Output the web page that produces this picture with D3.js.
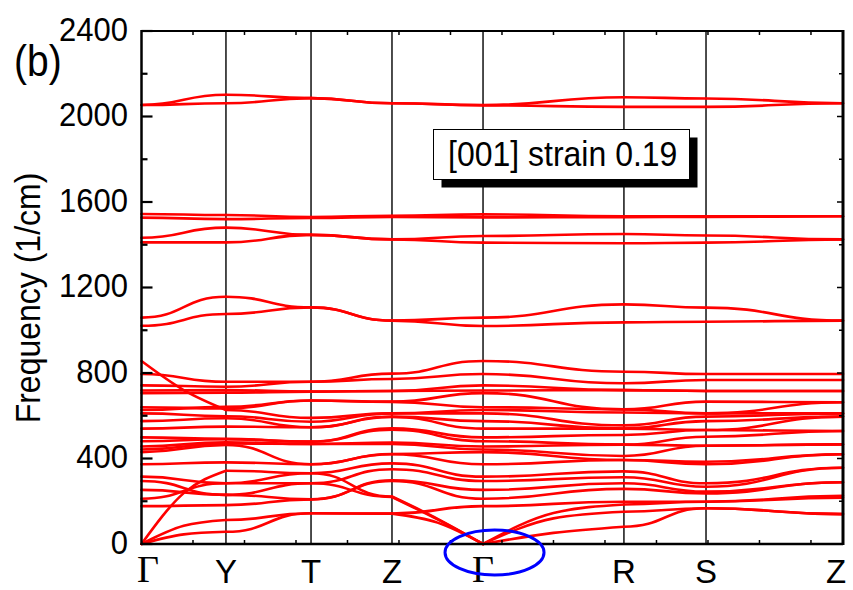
<!DOCTYPE html>
<html>
<head>
<meta charset="utf-8">
<script src="https://cdn.jsdelivr.net/npm/d3@7"></script>
<style>
  html, body { margin: 0; padding: 0; background: #fff; }
  svg { display: block; }
  text { font-family: Arial, "Liberation Sans", sans-serif; fill: #000; }
</style>
</head>
<body>
<div id="chart"></div>
<script>
// ---------- data ----------
const HSYM_LABELS = ["Γ", "Y", "T", "Z", "Γ", "R", "S", "Z"];
const HSYM_K = [0, 0.820, 1.646, 2.432, 3.316, 4.684, 5.481, 6.811];
const Y_TICKS = [0, 400, 800, 1200, 1600, 2000, 2400];
const Y_TITLE = "Frequency (1/cm)";
const PANEL_LABEL = "(b)";
const LEGEND_TEXT = "[001] strain 0.19";

// values at Γ, Y, T, Z, Γ, R, S, Z
const UPPER_BANDS = [
  [2054, 2102, 2086, 2062, 2054, 2090, 2084, 2062],
  [2054, 2062, 2086, 2062, 2052, 2045, 2045, 2062],
  [1544, 1539, 1530, 1536, 1542, 1533, 1533, 1533],
  [1527, 1520, 1525, 1530, 1528, 1529, 1530, 1533],
  [1433, 1480, 1446, 1425, 1441, 1450, 1443, 1425],
  [1411, 1411, 1446, 1425, 1410, 1407, 1410, 1425],
  [1059, 1157, 1107, 1045, 1059, 1121, 1106, 1045],
  [1021, 1076, 1107, 1045, 1020, 1037, 1040, 1045]
];

const LOW_BANDS = [
  [0, 57, 144, 142, 0, 81, 167, 140],
  [0, 112, 144, 142, 177, 198, 198, 226],
  [0, 343, 331, 222, 0, 151, 167, 140],
  [177, 182, 209, 295, 212, 258, 237, 289],
  [212, 284, 284, 220, 0, 185, 198, 217],
  [253, 230, 209, 298, 253, 284, 245, 289],
  [295, 230, 284, 350, 295, 312, 268, 357],
  [315, 284, 331, 377, 315, 340, 284, 357],
  [373, 382, 373, 420, 373, 393, 373, 420],
  [430, 463, 373, 421, 430, 393, 385, 420],
  [442, 470, 468, 468, 442, 412, 460, 466],
  [456, 476, 468, 475, 456, 465, 460, 466],
  [481, 490, 479, 535, 481, 465, 502, 529],
  [499, 492, 479, 541, 499, 510, 533, 529],
  [540, 549, 546, 594, 540, 540, 533, 596],
  [575, 588, 546, 596, 575, 540, 575, 596],
  [611, 598, 572, 611, 611, 555, 596, 611],
  [627, 642, 671, 665, 640, 630, 611, 663],
  [640, 634, 671, 666, 706, 630, 666, 663],
  [706, 708, 713, 716, 718, 720, 716, 716],
  [718, 720, 713, 716, 742, 720, 716, 716],
  [742, 736, 759, 772, 795, 752, 767, 767],
  [795, 759, 759, 797, 856, 806, 795, 795],
  [856, 627, 590, 611, 627, 615, 611, 611]
];

// extra mid-segment readings: [low band index, segment index, value]
const BAND_MIDS = [
  [0, 0, 45], [1, 0, 85], [2, 0, 238], [23, 0, 720],
  [0, 3, 100], [2, 3, 118], [4, 3, 115],
  [0, 4, 52], [2, 4, 120], [4, 4, 145]
];

// ---------- layout ----------
const W = 853, H = 590;
const plot = { left: 141.5, right: 843, top: 31, bottom: 544 };

const svg = d3.select("#chart").append("svg")
  .attr("width", W)
  .attr("height", H)
  .attr("viewBox", `0 0 ${W} ${H}`);

const x = d3.scaleLinear().domain([0, HSYM_K[HSYM_K.length - 1]]).range([plot.left, plot.right]);
const y = d3.scaleLinear().domain([0, 2400]).range([plot.bottom, plot.top]);

// high symmetry vertical lines
svg.append("g")
  .selectAll("line")
  .data(HSYM_K.slice(1, -1))
  .join("line")
  .attr("x1", d => x(d)).attr("x2", d => x(d))
  .attr("y1", plot.top).attr("y2", plot.bottom)
  .attr("stroke", "#111")
  .attr("stroke-width", 1.5);

// ---------- bands ----------
const midLookup = new Map(BAND_MIDS.map(([b, s, v]) => [b + ":" + s, v]));
const bump = d3.line().x(d => x(d[0])).y(d => y(d[1])).curve(d3.curveBumpX);
const mono = d3.line().x(d => x(d[0])).y(d => y(d[1])).curve(d3.curveMonotoneX);

const bandG = svg.append("g")
  .attr("fill", "none")
  .attr("stroke", "#ff0000")
  .attr("stroke-width", 2.6)
  .attr("stroke-linejoin", "round")
  .attr("stroke-linecap", "round");

function drawBand(vals, key) {
  for (let s = 0; s < HSYM_K.length - 1; s++) {
    const mid = key == null ? undefined : midLookup.get(key + ":" + s);
    if (mid !== undefined) {
      const km = (HSYM_K[s] + HSYM_K[s + 1]) / 2;
      bandG.append("path")
        .attr("d", mono([[HSYM_K[s], vals[s]], [km, mid], [HSYM_K[s + 1], vals[s + 1]]]));
    } else {
      bandG.append("path")
        .attr("d", bump([[HSYM_K[s], vals[s]], [HSYM_K[s + 1], vals[s + 1]]]));
    }
  }
}

UPPER_BANDS.forEach(b => drawBand(b, null));
LOW_BANDS.forEach((b, i) => drawBand(b, i));

// ---------- frame and ticks ----------
const frame = svg.append("g").attr("stroke", "#000");
frame.append("line").attr("x1", plot.left).attr("x2", plot.right).attr("y1", plot.top).attr("y2", plot.top).attr("stroke-width", 2);
frame.append("line").attr("x1", plot.left).attr("x2", plot.right).attr("y1", plot.bottom).attr("y2", plot.bottom).attr("stroke-width", 2.5);
frame.append("line").attr("x1", plot.left).attr("x2", plot.left).attr("y1", plot.top - 1).attr("y2", plot.bottom + 1).attr("stroke-width", 2.5);
frame.append("line").attr("x1", plot.right).attr("x2", plot.right).attr("y1", plot.top - 1).attr("y2", plot.bottom + 1).attr("stroke-width", 3);

const xTicks = d3.range(0.5, HSYM_K[HSYM_K.length - 1], 0.5);
frame.selectAll(".xtb").data(xTicks).join("line")
  .attr("x1", d => x(d)).attr("x2", d => x(d))
  .attr("y1", plot.bottom).attr("y2", plot.bottom - 4).attr("stroke-width", 1.5);
frame.selectAll(".xtt").data(xTicks).join("line")
  .attr("x1", d => x(d)).attr("x2", d => x(d))
  .attr("y1", plot.top).attr("y2", plot.top + 4).attr("stroke-width", 1.5);

const yMinor = d3.range(200, 2400, 400);
frame.selectAll(".ylM").data(Y_TICKS).join("line")
  .attr("x1", plot.left).attr("x2", plot.left + 11)
  .attr("y1", d => y(d)).attr("y2", d => y(d)).attr("stroke-width", 2.2);
frame.selectAll(".ylm").data(yMinor).join("line")
  .attr("x1", plot.left).attr("x2", plot.left + 6)
  .attr("y1", d => y(d)).attr("y2", d => y(d)).attr("stroke-width", 2.2);
frame.selectAll(".yrM").data(Y_TICKS).join("line")
  .attr("x1", plot.right).attr("x2", plot.right - 6)
  .attr("y1", d => y(d)).attr("y2", d => y(d)).attr("stroke-width", 1.5);
frame.selectAll(".yrm").data(yMinor).join("line")
  .attr("x1", plot.right).attr("x2", plot.right - 4)
  .attr("y1", d => y(d)).attr("y2", d => y(d)).attr("stroke-width", 1.5);

// ---------- text ----------
svg.append("g").selectAll("text").data(Y_TICKS).join("text")
  .attr("transform", d => `translate(128, ${y(d) + 9.5}) scale(1, 1.07)`)
  .attr("text-anchor", "end")
  .style("font-size", "31px")
  .text(d => d);

const labelShift = [6.5, 0, 0, 0, 0, 0, 0, -7];
svg.append("g").selectAll("text").data(HSYM_LABELS).join("text")
  .attr("x", (d, i) => x(HSYM_K[i]) + labelShift[i])
  .attr("y", (d, i) => d === "Γ" ? 582 : 583)
  .attr("text-anchor", "middle")
  .style("font-family", d => d === "Γ" ? "'Liberation Serif', 'Times New Roman', serif" : null)
  .style("font-size", d => d === "Γ" ? "38px" : "33px")
  .text(d => d);

svg.append("text")
  .attr("transform", "translate(40, 298) rotate(-90) scale(1, 1.07)")
  .attr("text-anchor", "middle")
  .style("font-size", "32px")
  .text(Y_TITLE);

svg.append("text")
  .attr("transform", "translate(14, 76) scale(1, 1.15)")
  .style("font-size", "39px")
  .text(PANEL_LABEL);

// legend box with shadow
const lg = svg.append("g").attr("transform", "translate(433.5, 129.5)");
lg.append("rect").attr("x", 8).attr("y", 8).attr("width", 256).attr("height", 50).attr("fill", "#000");
lg.append("rect").attr("width", 256).attr("height", 50).attr("fill", "#fff").attr("stroke", "#000").attr("stroke-width", 1);
lg.append("text")
  .attr("transform", "translate(14.5, 36) scale(1, 1.1)")
  .style("font-size", "32px")
  .text(LEGEND_TEXT);

// blue ellipse marking Γ
svg.append("ellipse")
  .attr("cx", x(HSYM_K[4]) + 11.5)
  .attr("cy", y(0) + 8.5)
  .attr("rx", 49.5).attr("ry", 22.5)
  .attr("fill", "none")
  .attr("stroke", "#0000ff")
  .attr("stroke-width", 3);
</script>
</body>
</html>
